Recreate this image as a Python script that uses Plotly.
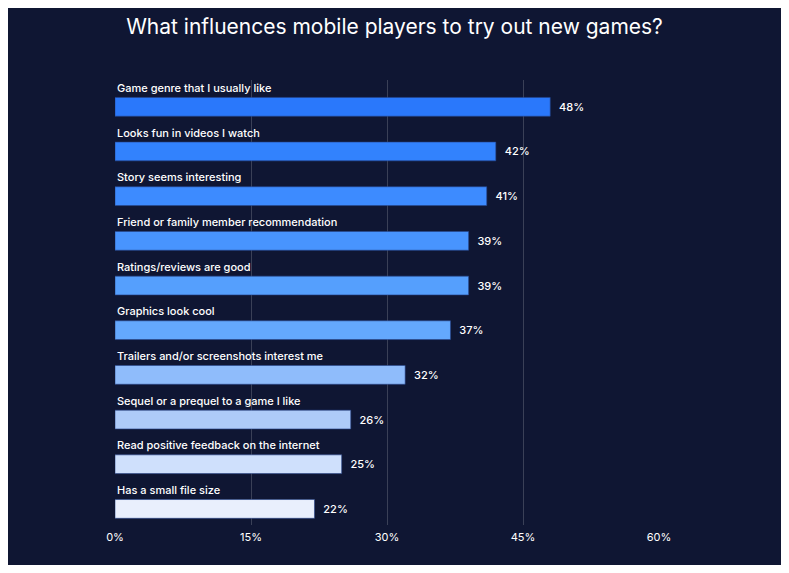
import plotly.graph_objects as go

categories = ["Game genre that I usually like", "Looks fun in videos I watch", "Story seems interesting",
              "Friend or family member recommendation", "Ratings/reviews are good", "Graphics look cool",
              "Trailers and/or screenshots interest me", "Sequel or a prequel to a game I like",
              "Read positive feedback on the internet", "Has a small file size"]
values = [48, 42, 41, 39, 39, 37, 32, 26, 25, 22]
colors = ["#2a78fb", "#3282fd", "#3d8bff", "#4894fe", "#559ffd", "#64a8fd", "#8fbcfb", "#aecbf8", "#cfe0fc", "#e9effd"]
tick_vals = [0, 15, 30, 45, 60]
tick_text = ["0%", "15%", "30%", "45%", "60%"]

ypos = list(range(len(categories)))
fig = go.Figure(go.Bar(
    x=values, y=ypos, orientation="h", width=0.42,
    marker=dict(color=colors, line=dict(color="rgba(40,70,140,0.6)", width=1)),
    text=[f"  {v}%" for v in values], textposition="outside",
    textfont=dict(color="white", size=11, family="Inter", weight=500), cliponaxis=False,
    hoverinfo="skip"))

for i, c in enumerate(categories):
    fig.add_annotation(x=0, y=i - 0.42, text=c, xref="x", yref="y", xanchor="left", yanchor="middle",
                       showarrow=False, font=dict(color="white", size=11, family="Inter", weight=500))

fig.update_layout(
    width=773, height=557, paper_bgcolor="#0f1633", plot_bgcolor="#0f1633",
    margin=dict(l=107, r=122, t=72, b=40), showlegend=False,
    title=dict(text="What influences mobile players to try out new games?", x=0.5, xanchor="center",
               y=0.966, yanchor="middle", font=dict(color="white", size=21, family="Inter")),
    xaxis=dict(range=[0, 60], tickvals=tick_vals, ticktext=tick_text, showgrid=True,
               gridcolor="rgba(255,255,255,0.18)", gridwidth=1, zeroline=False, showline=False,
               tickfont=dict(color="white", size=11, family="Inter"), ticks="", ticklabelstandoff=4),
    yaxis=dict(range=[9.36, -0.6], showticklabels=False, showgrid=False, zeroline=False),
    font=dict(family="Inter"),
)
fig.write_html("out.html")
